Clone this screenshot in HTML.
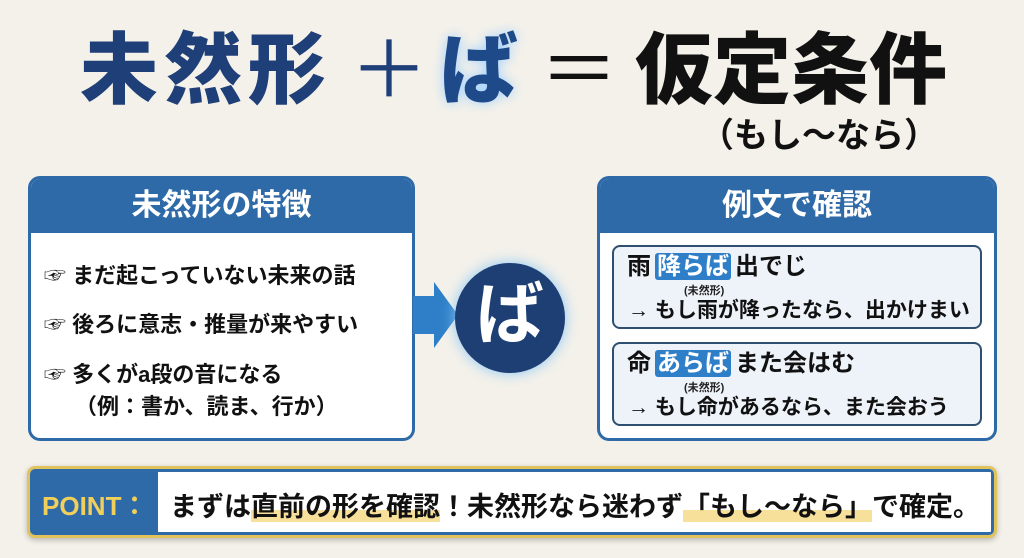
<!DOCTYPE html>
<html><head><meta charset="utf-8"><style>
body{margin:0;width:1024px;height:558px;overflow:hidden;background:#f4f1ea;font-family:"Liberation Sans","Noto Sans CJK JP",sans-serif;position:relative}
.a{position:absolute;white-space:nowrap}
.t{font-weight:900;font-size:78px;top:20px;line-height:100px}
.panel{position:absolute;top:176px;height:265px;background:#fff;border:3px solid #2f6aa8;border-radius:12px;box-sizing:border-box;overflow:hidden}
.hd{background:#2f6aa8;color:#fff;font-weight:700;font-size:30px;text-align:center;height:54px;line-height:54px}
.it{font-weight:700;font-size:22px;color:#111}
.box{position:absolute;left:612px;width:370px;height:84px;border:2px solid #2f4f70;border-radius:8px;background:#eef3fa;box-sizing:border-box}
.hl{background:#2f7fc8;color:#fff;border-radius:3px;padding:0 2px;margin:0 4px}
</style></head><body>
<div class="a t" style="left:80px;color:#1f3f78;letter-spacing:6px">未然形</div>
<div class="a t" style="left:350px;color:#1f3f78;font-weight:400">＋</div>
<div class="a t" style="left:440px;color:#1f4a8a;text-shadow:0 0 12px #9fd0ff">ば</div>
<div class="a t" style="left:540px;color:#111;font-weight:400">＝</div>
<div class="a t" style="left:635px;color:#111">仮定条件</div>
<div class="a" style="left:700px;top:108px;font-size:34px;font-weight:700;color:#111">（もし〜なら）</div>

<div class="panel" style="left:28px;width:387px"><div class="hd">未然形の特徴</div></div>
<div class="a it" style="left:44px;top:258px">☞ まだ起こっていない未来の話</div>
<div class="a it" style="left:44px;top:307px">☞ 後ろに意志・推量が来やすい</div>
<div class="a it" style="left:44px;top:357px">☞ 多くがa段の音になる</div>
<div class="a it" style="left:75px;top:389px">（例：書か、読ま、行か）</div>

<svg class="a" style="left:410px;top:280px" width="50" height="70"><polygon points="3,16 24,16 24,2 48,35 24,68 24,54 3,54" fill="#2f7fc8"/></svg>
<div class="a" style="left:455px;top:263px;width:110px;height:110px;border-radius:50%;background:#1d3f74;box-shadow:0 0 14px #8cc8f5;color:#fff;font-size:68px;font-weight:700;text-align:center;line-height:104px">ば</div>

<div class="panel" style="left:597px;width:400px"><div class="hd">例文で確認</div></div>
<div class="box" style="top:245px"></div>
<div class="box" style="top:342px"></div>
<div class="a" style="left:627px;top:252px;font-size:24px;font-weight:700;color:#111;line-height:30px">雨<span class="hl">降らば</span>出でじ</div>
<div class="a" style="left:684px;top:282px;font-size:11px;font-weight:700;color:#222">(未然形)</div>
<div class="a" style="left:628px;top:294px;font-size:21px;font-weight:700;color:#111">→ もし雨が降ったなら、出かけまい</div>
<div class="a" style="left:627px;top:349px;font-size:24px;font-weight:700;color:#111;line-height:30px">命<span class="hl">あらば</span>また会はむ</div>
<div class="a" style="left:684px;top:379px;font-size:11px;font-weight:700;color:#222">(未然形)</div>
<div class="a" style="left:628px;top:391px;font-size:21px;font-weight:700;color:#111">→ もし命があるなら、また会おう</div>

<div class="a" style="left:27px;top:466px;width:970px;height:72px;border:3px solid #e2c25a;border-radius:8px;box-sizing:border-box;background:#fff;overflow:hidden;box-shadow:0 2px 6px rgba(0,0,0,.25)">
<div style="position:absolute;left:0;top:0;width:128px;height:100%;background:#2f6aa8"></div>
<div style="position:absolute;left:128px;right:0;top:0;bottom:0;border:3px solid #2f6aa8;border-left:none;border-radius:0 4px 4px 0"></div>
<div class="a" style="left:12px;top:17px;font-size:26px;font-weight:700;color:#f0cf5a">POINT：</div>
<div class="a" style="left:140px;top:16px;font-size:27px;font-weight:700;color:#111">まずは<span style="background:linear-gradient(transparent 60%,#f7e09a 60%)">直前の形を確認</span>！未然形なら迷わず<span style="background:linear-gradient(transparent 60%,#f7e09a 60%)">「もし〜なら」</span>で確定。</div>
</div>
</body></html>
